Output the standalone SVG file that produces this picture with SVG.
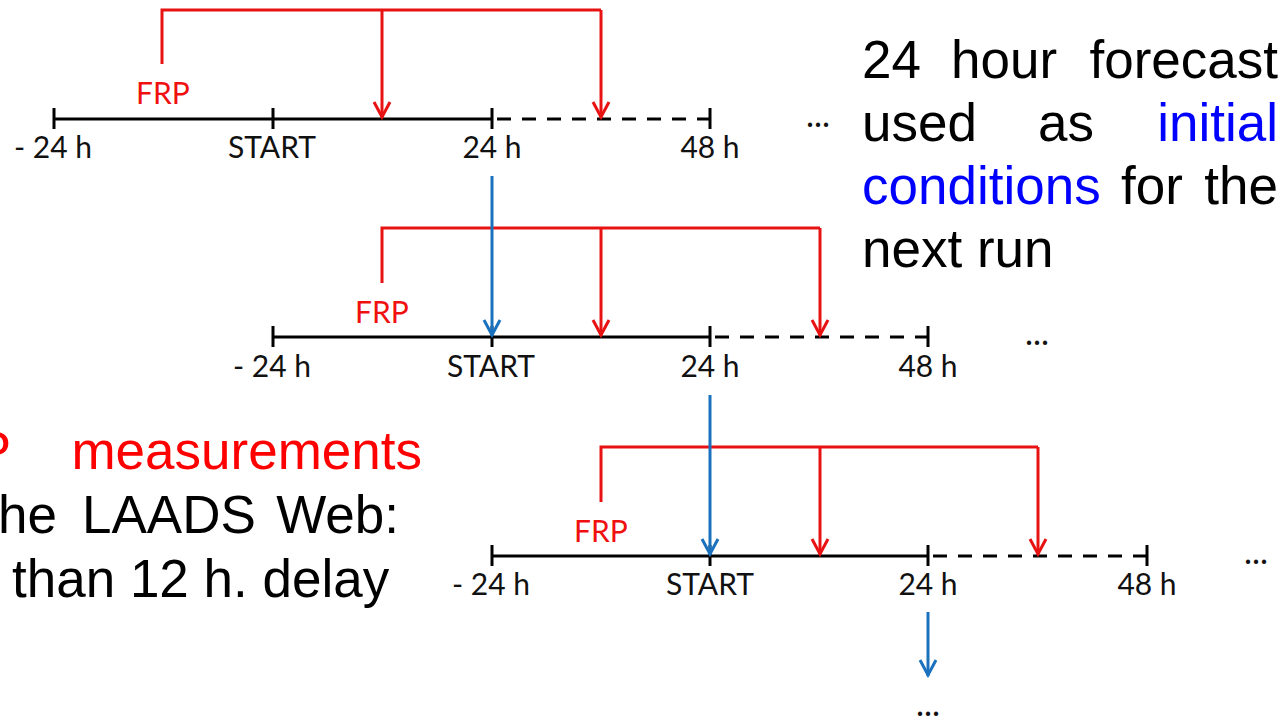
<svg xmlns="http://www.w3.org/2000/svg" width="1284" height="721" viewBox="0 0 1284 721">
  <style>
    .axis { stroke: #000; stroke-width: 3; fill: none; }
    .dash { stroke: #000; stroke-width: 3; fill: none; stroke-dasharray: 14 11; }
    .tick { stroke: #000; stroke-width: 3; }
    .frp { stroke: #e81212; stroke-width: 3; fill: none; }
    .ic { stroke: #1a72bf; stroke-width: 3; fill: none; }
    .lbl { font-family: Lato, "Open Sans", sans-serif; font-size: 30px; fill: #111; text-anchor: middle; }
    .frptxt { font-family: Lato, "Open Sans", sans-serif; font-size: 30px; fill: #f01010; text-anchor: middle; }
    .more { font-family: Lato, sans-serif; font-size: 34px; fill: #111; text-anchor: middle; }
    .note { font-family: "Liberation Sans", Arial, sans-serif; font-size: 53px; fill: #000; }
    .blue { fill: #0000ff; }
    .red { fill: #ff0000; }
  </style>
  <defs>
    <!-- open chevron heads, tip at the line end -->
    <marker id="headRed" viewBox="-18 -10 20 20" markerWidth="20" markerHeight="20" refX="0" refY="0" markerUnits="userSpaceOnUse" orient="auto">
      <path d="M -16 -8 L -1 0 L -16 8" fill="none" stroke="#e81212" stroke-width="3"/>
    </marker>
    <marker id="headBlue" viewBox="-18 -10 20 20" markerWidth="20" markerHeight="20" refX="0" refY="0" markerUnits="userSpaceOnUse" orient="auto">
      <path d="M -16 -8 L -1 0 L -16 8" fill="none" stroke="#1a72bf" stroke-width="3"/>
    </marker>
  </defs>
  <rect width="1284" height="721" fill="#fff"/>

  <!-- run 1 timeline -->
  <g id="run1">
    <line class="axis" x1="54" y1="119" x2="492" y2="119"/>
    <line class="dash" x1="497" y1="119" x2="710" y2="119"/>
    <line class="tick" x1="54" y1="108" x2="54" y2="129"/>
    <line class="tick" x1="273" y1="108" x2="273" y2="129"/>
    <line class="tick" x1="492" y1="108" x2="492" y2="129"/>
    <line class="tick" x1="710" y1="108" x2="710" y2="129"/>
    <text class="lbl" x="53" y="158">- 24 h</text>
    <text class="lbl" x="272" y="158">START</text>
    <text class="lbl" x="492" y="158">24 h</text>
    <text class="lbl" x="710" y="158">48 h</text>
    <text class="frptxt" x="163" y="104">FRP</text>
    <text class="more" x="818" y="127">...</text>
  </g>

  <!-- run 2 timeline -->
  <g id="run2">
    <line class="axis" x1="273" y1="337" x2="710" y2="337"/>
    <line class="dash" x1="715" y1="337" x2="928" y2="337"/>
    <line class="tick" x1="273" y1="326" x2="273" y2="347"/>
    <line class="tick" x1="492" y1="326" x2="492" y2="347"/>
    <line class="tick" x1="710" y1="326" x2="710" y2="347"/>
    <line class="tick" x1="928" y1="326" x2="928" y2="347"/>
    <text class="lbl" x="272" y="377">- 24 h</text>
    <text class="lbl" x="491" y="377">START</text>
    <text class="lbl" x="710" y="377">24 h</text>
    <text class="lbl" x="928" y="377">48 h</text>
    <text class="frptxt" x="382" y="323">FRP</text>
    <text class="more" x="1037" y="345">...</text>
  </g>

  <!-- run 3 timeline -->
  <g id="run3">
    <line class="axis" x1="492" y1="556" x2="928" y2="556"/>
    <line class="dash" x1="933" y1="556" x2="1147" y2="556"/>
    <line class="tick" x1="492" y1="545" x2="492" y2="566"/>
    <line class="tick" x1="710" y1="545" x2="710" y2="566"/>
    <line class="tick" x1="928" y1="545" x2="928" y2="566"/>
    <line class="tick" x1="1147" y1="545" x2="1147" y2="566"/>
    <text class="lbl" x="491" y="595">- 24 h</text>
    <text class="lbl" x="710" y="595">START</text>
    <text class="lbl" x="928" y="595">24 h</text>
    <text class="lbl" x="1147" y="595">48 h</text>
    <text class="frptxt" x="601" y="542">FRP</text>
    <text class="more" x="1256" y="564">...</text>
    <text class="more" x="928" y="716">...</text>
  </g>

  <!-- connectors: FRP brackets (red) and forecast hand-over (blue) -->
  <g id="connectors">
    <path class="frp" d="M 162 64 V 10 H 601"/>
    <line class="frp" x1="382" y1="10" x2="382" y2="118" marker-end="url(#headRed)"/>
    <line class="frp" x1="601" y1="10" x2="601" y2="118" marker-end="url(#headRed)"/>

    <path class="frp" d="M 382 283 V 228 H 820"/>
    <line class="frp" x1="601" y1="228" x2="601" y2="336" marker-end="url(#headRed)"/>
    <line class="frp" x1="820" y1="228" x2="820" y2="336" marker-end="url(#headRed)"/>

    <path class="frp" d="M 601 502 V 447 H 1038"/>
    <line class="frp" x1="820" y1="447" x2="820" y2="555" marker-end="url(#headRed)"/>
    <line class="frp" x1="1038" y1="447" x2="1038" y2="555" marker-end="url(#headRed)"/>

    <line class="ic" x1="492" y1="176" x2="492" y2="336" marker-end="url(#headBlue)"/>
    <line class="ic" x1="710" y1="395" x2="710" y2="555" marker-end="url(#headBlue)"/>
    <line class="ic" x1="928" y1="612" x2="928" y2="676" marker-end="url(#headBlue)"/>
  </g>

  <!-- explanatory text, right -->
  <g id="note-forecast" class="note">
    <text x="862" y="78">24</text>
    <text x="951" y="78">hour</text>
    <text x="1278" y="78" text-anchor="end">forecast</text>
    <text x="862" y="141">used</text>
    <text x="1038" y="141">as</text>
    <text x="1278" y="141" text-anchor="end" class="blue">initial</text>
    <text x="862" y="204" class="blue">conditions</text>
    <text x="1121" y="204">for</text>
    <text x="1278" y="204" text-anchor="end">the</text>
    <text x="862" y="267">next run</text>
  </g>

  <!-- explanatory text, left -->
  <g id="note-frp" class="note">
    <text x="11" y="469" text-anchor="end" class="red">FRP</text>
    <text x="422" y="469" text-anchor="end" class="red">measurements</text>
    <text x="-2" y="533">he</text>
    <text x="82" y="533">LAADS</text>
    <text x="399" y="533" text-anchor="end">Web:</text>
    <text x="12" y="597">than 12 h. delay</text>
  </g>
</svg>
